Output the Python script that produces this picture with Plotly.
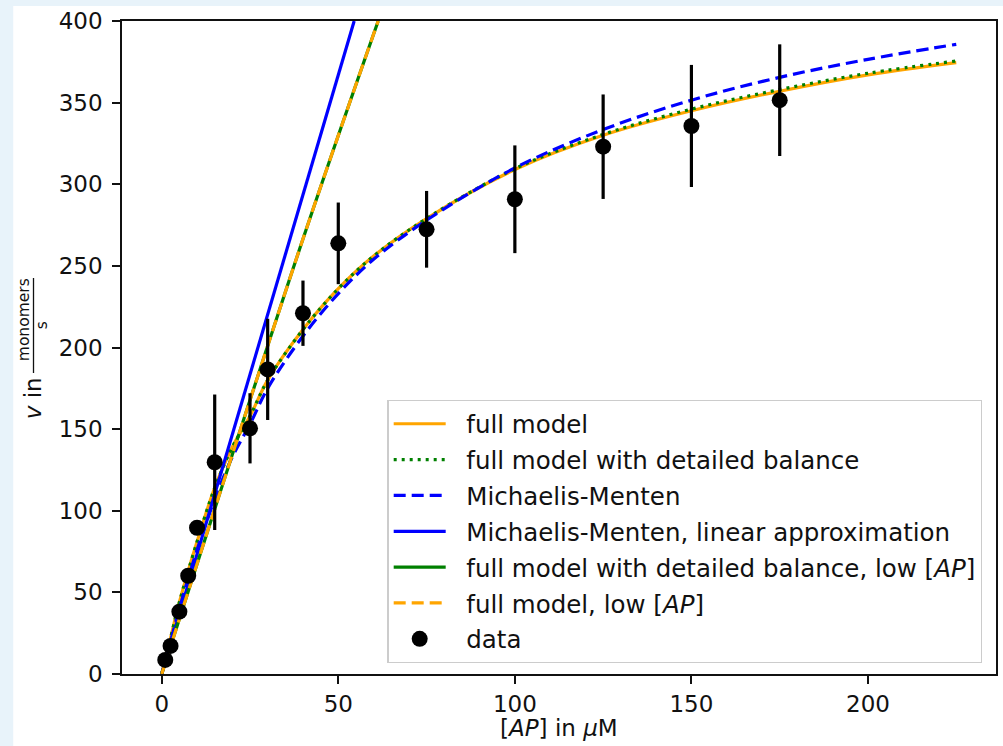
import plotly.graph_objects as go

# ---------------- data ----------------
ap_data = [1, 2.5, 5, 7.5, 10, 15, 25, 30, 40, 50, 75, 100, 125, 150, 175]
v_data = [8.6, 17.2, 38.2, 60.2, 89.6, 129.7, 150.5, 186.6, 221.0, 263.8, 272.4, 290.8, 323.0, 335.7, 351.5]
v_err = [2, 2, 3, 3, 4, 41.5, 21.5, 31.0, 20.0, 25.0, 23.5, 33.0, 32.0, 37.4, 34.2]

ap_curve = [0, 2.5, 5, 10, 15, 20, 25, 30, 40, 50, 60, 75, 100, 125, 150, 175, 200, 225]
v_full = [0, 22, 44, 81, 114, 139, 158, 180, 211, 236, 256, 279, 309, 330, 345, 357, 367, 374.5]
v_full_db = [0, 22, 44, 81, 114, 139, 158, 180, 211, 236, 256, 279, 309.5, 330.5, 346, 358, 368, 375.5]
v_mm = [0, 20, 40, 76, 107, 133, 153, 175, 207, 233, 254, 278, 310, 333.5, 351.5, 365.5, 376.5, 385.7]

ap_mm_lin = [0, 54.5]
v_mm_lin = [0, 400]
ap_low = [0, 39, 61.3]
v_low = [0, 260, 400]

x_ticks = [0, 50, 100, 150, 200]
y_ticks = [0, 50, 100, 150, 200, 250, 300, 350, 400]

legend_names = [
    "full model",
    "full model with detailed balance",
    "Michaelis-Menten",
    "Michaelis-Menten, linear approximation",
    "full model with detailed balance, low [<i>AP</i>]",
    "full model, low [<i>AP</i>]",
    "data",
]

# ---------------- layout geometry (pixels) ----------------
W, H = 1003, 746
L, R, T, B = 122, 998, 21, 674


def px_x(p):
    return (p - L) / (R - L)


def px_y(p):
    return (B - p) / (B - T)


FONT = "DejaVu Sans"
INK = "#111111"
ORANGE = "#ffa500"
GREEN = "#008000"
BLUE = "#0000ff"
PAD = "\u00a0\u00a0"

names = [PAD + n for n in legend_names]

fig = go.Figure()

fig.add_trace(go.Scatter(x=ap_curve, y=v_full, mode="lines", name=names[0],
                         line=dict(color=ORANGE, width=3.2, shape="spline"), legendgroup="a"))
fig.add_trace(go.Scatter(x=ap_curve, y=v_full_db, mode="lines", name=names[1],
                         line=dict(color=GREEN, width=3.2, dash="3px,5px", shape="spline"), legendgroup="b"))
fig.add_trace(go.Scatter(x=ap_curve, y=v_mm, mode="lines", name=names[2],
                         line=dict(color=BLUE, width=3.2, dash="12px,6px", shape="spline"), legendgroup="c"))
fig.add_trace(go.Scatter(x=ap_mm_lin, y=v_mm_lin, mode="lines", name=names[3],
                         line=dict(color=BLUE, width=3.2), legendgroup="d"))
fig.add_trace(go.Scatter(x=ap_low, y=v_low, mode="lines", name=names[4],
                         line=dict(color=GREEN, width=3.2, shape="spline"), legendgroup="e"))
fig.add_trace(go.Scatter(x=ap_low, y=v_low, mode="lines", name=names[5],
                         line=dict(color=ORANGE, width=3.2, dash="12px,6px", shape="spline"), legendgroup="f"))
fig.add_trace(go.Scatter(x=ap_data, y=v_data, mode="markers", name=names[6],
                         marker=dict(color="black", size=16),
                         error_y=dict(type="data", array=v_err, color="black", thickness=3.2, width=0),
                         legendgroup="g"))

axis_common = dict(showgrid=False, zeroline=False, showline=True, linecolor=INK, linewidth=1.6,
                   mirror=True, ticks="outside", ticklen=8, tickwidth=1.6, tickcolor=INK,
                   tickfont=dict(family=FONT, size=23, color=INK))

fig.update_layout(
    width=W, height=H,
    margin=dict(l=L, r=W - R, t=T, b=H - B, pad=0),
    paper_bgcolor="#e8f3fa",
    plot_bgcolor="white",
    font=dict(family=FONT, size=23, color=INK),
    xaxis=dict(range=[-11.25, 236.25], tickmode="array", tickvals=x_ticks,
               ticklabelstandoff=1, **axis_common),
    yaxis=dict(range=[0, 400], tickmode="array", tickvals=y_ticks,
               ticklabelstandoff=5, **axis_common),
    legend=dict(x=px_x(388), y=px_y(400), xanchor="left", yanchor="top",
                bgcolor="white", bordercolor="#cccccc", borderwidth=1.3,
                font=dict(family=FONT, size=24.5, color=INK),
                tracegroupgap=1, itemwidth=52),
    showlegend=True,
)

# white figure area on light-blue page
fig.add_shape(type="rect", xref="paper", yref="paper",
              x0=px_x(13), x1=px_x(1010), y0=px_y(6), y1=px_y(760),
              fillcolor="white", line=dict(width=0), layer="below")

# x-axis title
fig.add_annotation(x=px_x(560), y=px_y(728), xref="paper", yref="paper",
                   xanchor="center", yanchor="middle", showarrow=False,
                   text="[<i>AP</i>] in <i>μ</i>M", font=dict(family=FONT, size=23, color=INK))

# y-axis label with fraction
fig.add_annotation(x=px_x(33), y=px_y(398), xref="paper", yref="paper", text="<i>v</i> in",
                   xanchor="center", yanchor="middle",
                   textangle=-90, showarrow=False, font=dict(family=FONT, size=23, color=INK))
fig.add_annotation(x=px_x(24), y=px_y(320), xref="paper", yref="paper", text="monomers",
                   xanchor="center", yanchor="middle",
                   textangle=-90, showarrow=False, font=dict(family=FONT, size=15.5, color=INK))
fig.add_annotation(x=px_x(42), y=px_y(325), xref="paper", yref="paper", text="s",
                   xanchor="center", yanchor="middle",
                   textangle=-90, showarrow=False, font=dict(family=FONT, size=15.5, color=INK))
fig.add_shape(type="line", xref="paper", yref="paper",
              x0=px_x(33.3), x1=px_x(33.3), y0=px_y(278), y1=px_y(373),
              line=dict(color=INK, width=1.3))

fig.write_html("out.html", config={"displayModeBar": False},
               post_script="document.body.style.margin='0';")
